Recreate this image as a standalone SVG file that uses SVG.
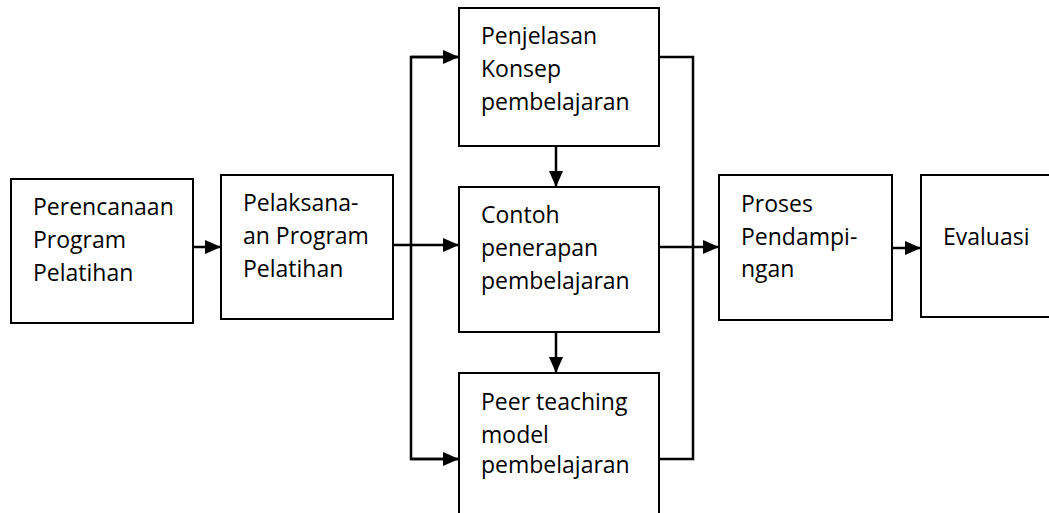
<svg xmlns="http://www.w3.org/2000/svg" width="1049" height="513" viewBox="0 0 1049 513">
<style>
.box{fill:#fff;stroke:#000;stroke-width:2}
.t{font-family:"Open Sans","Noto Sans",sans-serif;font-size:23px;fill:#000}
.c{fill:none;stroke:#000;stroke-width:2.5}
</style>
<defs>
<marker id="ah" markerUnits="userSpaceOnUse" markerWidth="16" markerHeight="14" refX="16" refY="7" orient="auto" viewBox="0 0 16 14">
<path d="M0,0 L16,7 L0,14 z" fill="#000"/>
</marker>
</defs>
<rect width="1049" height="513" fill="#fff"/>
<g id="connectors">
<line class="c" x1="193" y1="247" x2="221" y2="247" marker-end="url(#ah)"/>
<line class="c" x1="393" y1="245" x2="459" y2="245" marker-end="url(#ah)"/>
<polyline class="c" points="459,57 411,57 411,459 459,459"/>
<line class="c" x1="411" y1="57" x2="459" y2="57" marker-end="url(#ah)"/>
<line class="c" x1="411" y1="459" x2="459" y2="459" marker-end="url(#ah)"/>
<line class="c" x1="556" y1="146" x2="556" y2="187" marker-end="url(#ah)"/>
<line class="c" x1="556" y1="332" x2="556" y2="373" marker-end="url(#ah)"/>
<polyline class="c" points="659,57 693,57 693,459 659,459"/>
<line class="c" x1="659" y1="247" x2="719" y2="247" marker-end="url(#ah)"/>
<line class="c" x1="892" y1="248" x2="921" y2="248" marker-end="url(#ah)"/>
</g>
<g id="perencanaan">
<rect class="box" x="11" y="179" width="182" height="144"/>
<text class="t" x="33" y="215">Perencanaan</text>
<text class="t" x="33" y="248">Program</text>
<text class="t" x="33" y="281">Pelatihan</text>
</g>
<g id="pelaksanaan">
<rect class="box" x="221" y="175" width="172" height="144"/>
<text class="t" x="243" y="211">Pelaksana-</text>
<text class="t" x="243" y="244">an Program</text>
<text class="t" x="243" y="277">Pelatihan</text>
</g>
<g id="penjelasan">
<rect class="box" x="459" y="8" width="200" height="138"/>
<text class="t" x="481" y="44">Penjelasan</text>
<text class="t" x="481" y="77">Konsep</text>
<text class="t" x="481" y="110">pembelajaran</text>
</g>
<g id="contoh">
<rect class="box" x="459" y="187" width="200" height="145"/>
<text class="t" x="481" y="223">Contoh</text>
<text class="t" x="481" y="256">penerapan</text>
<text class="t" x="481" y="289">pembelajaran</text>
</g>
<g id="peer">
<rect class="box" x="459" y="373" width="200" height="150"/>
<text class="t" x="481" y="410">Peer teaching</text>
<text class="t" x="481" y="443">model</text>
<text class="t" x="481" y="473">pembelajaran</text>
</g>
<g id="proses">
<rect class="box" x="719" y="175" width="173" height="145"/>
<text class="t" x="741" y="212">Proses</text>
<text class="t" x="741" y="245">Pendampi-</text>
<text class="t" x="741" y="277">ngan</text>
</g>
<g id="evaluasi">
<rect class="box" x="921" y="175" width="140" height="142"/>
<text class="t" x="943" y="245">Evaluasi</text>
</g>
</svg>
